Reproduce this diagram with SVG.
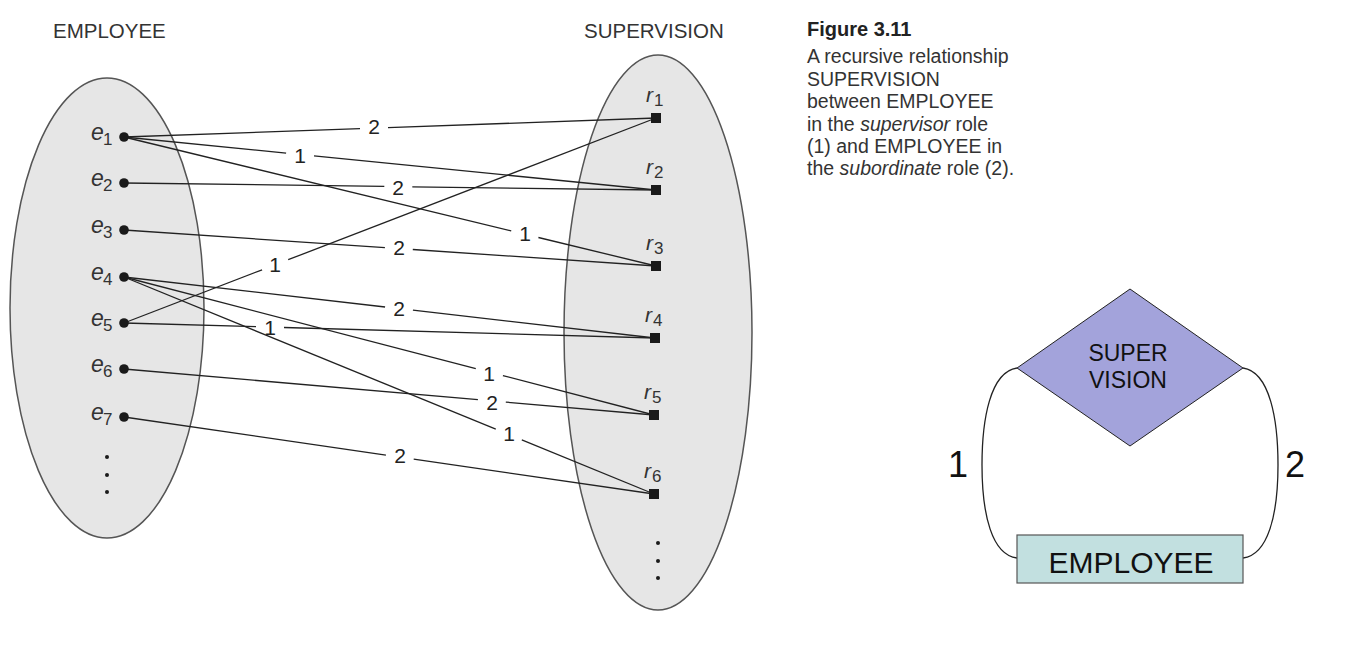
<svg xmlns="http://www.w3.org/2000/svg" width="1352" height="654" viewBox="0 0 1352 654">
<style>
.hdr{font-family:"Liberation Sans",Arial,sans-serif;font-size:20.5px;fill:#333}
.cap{font-family:"Liberation Sans",Arial,sans-serif;font-size:19.5px;fill:#333}
.capb{font-family:"Liberation Sans",Arial,sans-serif;font-size:20px;font-weight:bold;fill:#222}
.set{fill:#e6e6e6;stroke:#555;stroke-width:1.5}
.lbl{font-family:"Liberation Sans",Arial,sans-serif;font-size:21px;fill:#222;text-anchor:middle}
.ev{font-family:"Liberation Sans",Arial,sans-serif;font-size:23px;font-style:italic;fill:#333}
.sub{font-size:17px;font-style:normal}
.rv{font-family:"Liberation Sans",Arial,sans-serif;font-size:21px;font-style:italic;fill:#333}
.rsub{font-size:17px;font-style:normal}
.ln{stroke:#222;stroke-width:1.3;fill:none}
.dot{fill:#1a1a1a}
.er{font-family:"Liberation Sans",Arial,sans-serif;fill:#111;text-anchor:middle}
</style>

<g id="headers">
<text class="hdr" x="53" y="38">EMPLOYEE</text>
<text class="hdr" x="584" y="38">SUPERVISION</text>
</g>

<g id="caption">
<text class="capb" x="807" y="36">Figure 3.11</text>
<text class="cap" x="807" y="63">A recursive relationship</text>
<text class="cap" x="807" y="86">SUPERVISION</text>
<text class="cap" x="807" y="108">between EMPLOYEE</text>
<text class="cap" x="807" y="131">in the <tspan font-style="italic">supervisor</tspan> role</text>
<text class="cap" x="807" y="153">(1) and EMPLOYEE in</text>
<text class="cap" x="807" y="175">the <tspan font-style="italic">subordinate</tspan> role (2).</text>
</g>

<g id="employee-set">
<ellipse class="set" cx="107" cy="308" rx="97" ry="230"/>
</g>
<g id="supervision-set">
<ellipse class="set" cx="658" cy="332.5" rx="94" ry="277.5"/>
</g>

<g id="connectors">
<polyline class="ln" points="124,137 360.0,128.6"/><polyline class="ln" points="388.0,127.6 656,118"/>
<polyline class="ln" points="124,137 286.1,153.1"/><polyline class="ln" points="314.0,155.9 656,190"/>
<polyline class="ln" points="124,137 511.2,230.9"/><polyline class="ln" points="538.4,237.5 656,266"/>
<polyline class="ln" points="124,183 384.3,186.4"/><polyline class="ln" points="412.3,186.8 656,190"/>
<polyline class="ln" points="124,230 384.9,247.7"/><polyline class="ln" points="412.8,249.5 656,266"/>
<polyline class="ln" points="124,323 262.1,269.8"/><polyline class="ln" points="288.2,259.7 656,118"/>
<polyline class="ln" points="124,277 385.1,307.0"/><polyline class="ln" points="412.9,310.2 655,338"/>
<polyline class="ln" points="124,323 256.0,326.7"/><polyline class="ln" points="284.0,327.5 655,338"/>
<polyline class="ln" points="124,277 475.8,368.6"/><polyline class="ln" points="502.9,375.6 654,415"/>
<polyline class="ln" points="124,369 477.9,399.7"/><polyline class="ln" points="505.8,402.1 654,415"/>
<polyline class="ln" points="124,277 495.8,429.2"/><polyline class="ln" points="521.8,439.9 654,494"/>
<polyline class="ln" points="124,417 385.9,455.1"/><polyline class="ln" points="413.7,459.1 654,494"/>

<text class="lbl" x="374" y="133.5">2</text>
<text class="lbl" x="300" y="162.5">1</text>
<text class="lbl" x="525" y="240.5">1</text>
<text class="lbl" x="398" y="194.5">2</text>
<text class="lbl" x="399" y="254.5">2</text>
<text class="lbl" x="275" y="271.5">1</text>
<text class="lbl" x="399" y="315.5">2</text>
<text class="lbl" x="270" y="334.5">1</text>
<text class="lbl" x="489" y="380.5">1</text>
<text class="lbl" x="492" y="409.5">2</text>
<text class="lbl" x="509" y="440.5">1</text>
<text class="lbl" x="400" y="462.5">2</text>
</g>

<g id="e-nodes">
<g id="e1"><circle class="dot" cx="124" cy="137" r="4.8"/><text class="ev" x="91" y="140">e<tspan class="sub" x="103" y="145">1</tspan></text></g>
<g id="e2"><circle class="dot" cx="124" cy="183" r="4.8"/><text class="ev" x="91" y="186">e<tspan class="sub" x="103" y="191">2</tspan></text></g>
<g id="e3"><circle class="dot" cx="124" cy="230" r="4.8"/><text class="ev" x="91" y="233">e<tspan class="sub" x="103" y="238">3</tspan></text></g>
<g id="e4"><circle class="dot" cx="124" cy="277" r="4.8"/><text class="ev" x="91" y="280">e<tspan class="sub" x="103" y="285">4</tspan></text></g>
<g id="e5"><circle class="dot" cx="124" cy="323" r="4.8"/><text class="ev" x="91" y="326">e<tspan class="sub" x="103" y="331">5</tspan></text></g>
<g id="e6"><circle class="dot" cx="124" cy="369" r="4.8"/><text class="ev" x="91" y="372">e<tspan class="sub" x="103" y="377">6</tspan></text></g>
<g id="e7"><circle class="dot" cx="124" cy="417" r="4.8"/><text class="ev" x="91" y="420">e<tspan class="sub" x="103" y="425">7</tspan></text></g>
<g id="e-more"><circle class="dot" cx="107" cy="457" r="2"/><circle class="dot" cx="107" cy="475" r="2"/><circle class="dot" cx="107" cy="492" r="2"/></g>
</g>

<g id="r-nodes">
<g id="r1"><rect class="dot" x="651" y="113" width="10" height="10"/><text class="rv" x="646" y="102">r<tspan class="rsub" x="654" y="106">1</tspan></text></g>
<g id="r2"><rect class="dot" x="651" y="185" width="10" height="10"/><text class="rv" x="646" y="174">r<tspan class="rsub" x="654" y="178">2</tspan></text></g>
<g id="r3"><rect class="dot" x="651" y="261" width="10" height="10"/><text class="rv" x="646" y="250">r<tspan class="rsub" x="654" y="254">3</tspan></text></g>
<g id="r4"><rect class="dot" x="650" y="333" width="10" height="10"/><text class="rv" x="645" y="322">r<tspan class="rsub" x="653" y="326">4</tspan></text></g>
<g id="r5"><rect class="dot" x="649" y="410" width="10" height="10"/><text class="rv" x="644" y="399">r<tspan class="rsub" x="652" y="403">5</tspan></text></g>
<g id="r6"><rect class="dot" x="649" y="489" width="10" height="10"/><text class="rv" x="644" y="478">r<tspan class="rsub" x="652" y="482">6</tspan></text></g>
<g id="r-more"><circle class="dot" cx="658" cy="543" r="2"/><circle class="dot" cx="658" cy="561" r="2"/><circle class="dot" cx="658" cy="578" r="2"/></g>
</g>

<g id="er-links">
<path class="ln" stroke-width="1" d="M1017,368 C990,372 982,420 982,465 C982,515 992,555 1017,558"/>
<path class="ln" stroke-width="1" d="M1243,368 C1270,372 1278,420 1278,465 C1278,515 1268,555 1243,558"/>
<text class="er" x="958" y="477" font-size="36">1</text>
<text class="er" x="1295" y="477" font-size="36">2</text>
</g>

<g id="er-supervision">
<polygon points="1130,289 1243,368 1130,446 1017,368" fill="#a3a3db" stroke="#222" stroke-width="1"/>
<text class="er" x="1128" y="361" font-size="23">SUPER</text>
<text class="er" x="1128" y="388" font-size="23">VISION</text>
</g>

<g id="er-employee">
<rect x="1017" y="535" width="226" height="48" fill="#c2e0e0" stroke="#555" stroke-width="1.2"/>
<text class="er" x="1131" y="573" font-size="30">EMPLOYEE</text>
</g>
</svg>
